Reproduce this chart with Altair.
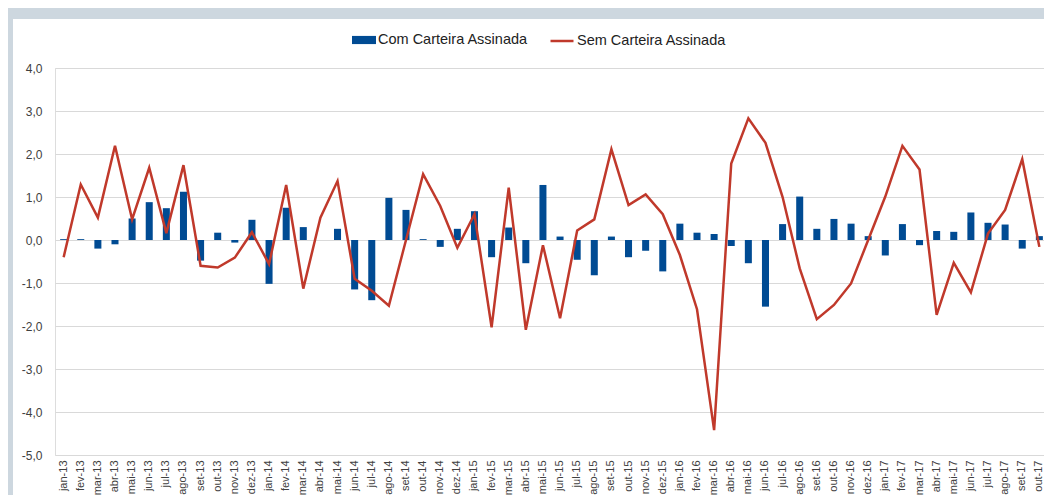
import altair as alt
import pandas as pd

months = []
for yy in ["13", "14", "15", "16"]:
    for m in ["jan", "fev", "mar", "abr", "mai", "jun", "jul", "ago", "set", "out", "nov", "dez"]:
        months.append(f"{m}-{yy}")
for m in ["jan", "fev", "mar", "abr", "mai", "jun", "jul", "ago", "set", "out"]:
    months.append(f"{m}-17")

com_carteira = [
    0.02, 0.02, -0.20, -0.10, 0.50, 0.88, 0.74, 1.12, -0.48, 0.17, -0.06, 0.47,
    -1.02, 0.75, 0.30, 0.00, 0.26, -1.15, -1.40, 0.98, 0.70, 0.02, -0.16, 0.26,
    0.67, -0.40, 0.29, -0.54, 1.28, 0.08, -0.46, -0.82, 0.08, -0.40, -0.25, -0.73,
    0.38, 0.17, 0.14, -0.14, -0.54, -1.55, 0.37, 1.01, 0.26, 0.49, 0.38, 0.09,
    -0.36, 0.37, -0.12, 0.21, 0.19, 0.64, 0.40, 0.36, -0.20, 0.09,
]
sem_carteira = [
    -0.40, 1.29, 0.52, 2.19, 0.48, 1.68, 0.16, 1.74, -0.60, -0.64, -0.41, 0.18,
    -0.56, 1.28, -1.13, 0.52, 1.37, -0.90, -1.18, -1.53, 0.00, 1.53, 0.79, -0.18,
    0.60, -2.03, 1.22, -2.09, -0.12, -1.82, 0.22, 0.48, 2.11, 0.81, 1.06, 0.60,
    -0.35, -1.61, -4.42, 1.78, 2.83, 2.26, 1.00, -0.66, -1.84, -1.51, -1.01, 0.00,
    1.01, 2.19, 1.64, -1.74, -0.53, -1.22, 0.15, 0.70, 1.88, -0.16,
]
series_names = ["Com Carteira Assinada", "Sem Carteira Assinada"]
y_ticks = [-5, -4, -3, -2, -1, 0, 1, 2, 3, 4]

BLUE = "#004b93"
RED = "#c0392b"
FRAME = "#cdd7df"
FONT = "Liberation Sans"

df = pd.DataFrame({
    "mes": months,
    "com": com_carteira,
    "sem": sem_carteira,
    "s1": series_names[0],
    "s2": series_names[1],
})

x_enc = alt.X(
    "mes:N", sort=months,
    scale=alt.Scale(paddingInner=0.59, paddingOuter=0.3),
    axis=alt.Axis(title=None, labelAngle=-90, labelFontSize=11, labelFont=FONT,
                  labelColor="#404040", ticks=False, tickSize=0, domain=False,
                  grid=False, labelPadding=5, labelOverlap=False),
)
y_axis = alt.Axis(title=None, values=y_ticks, labelFontSize=12, labelFont=FONT,
                  labelColor="#404040", ticks=False, tickSize=0, domain=False,
                  grid=True, gridColor="#d9d9d9", gridWidth=1, labelPadding=13,
                  labelExpr="replace(replace(format(datum.value, '.1f'), '.', ','), '\u2212', '-')")
y_scale = alt.Scale(domain=[-5, 4], nice=False)

one = pd.DataFrame({"a": [0]})
left_strip = alt.Chart(one).mark_rect(color=FRAME).encode(
    x=alt.value(-47), x2=alt.value(-42), y=alt.value(-60), y2=alt.value(440))
top_band = alt.Chart(one).mark_rect(color=FRAME).encode(
    x=alt.value(-47), x2=alt.value(1000), y=alt.value(-60), y2=alt.value(-49))

bars = alt.Chart(df).mark_bar().encode(
    x=x_enc,
    y=alt.Y("com:Q", scale=y_scale, axis=y_axis),
    fill=alt.Fill("s1:N", scale=alt.Scale(domain=[series_names[0]], range=[BLUE]),
                  legend=alt.Legend(title=None, orient="none", legendX=297, legendY=-40,
                                    symbolType="M-1,-0.34H1V0.34H-1Z", symbolSize=576,
                                    symbolStrokeWidth=0, labelFontSize=14.5, labelFont=FONT,
                                    labelColor="#222222", labelOffset=2, padding=0)),
)

line = alt.Chart(df).mark_line(strokeWidth=2.5).encode(
    x=alt.X("mes:N", sort=months),
    y=alt.Y("sem:Q", scale=y_scale),
    stroke=alt.Stroke("s2:N", scale=alt.Scale(domain=[series_names[1]], range=[RED]),
                      legend=alt.Legend(title=None, orient="none", legendX=494, legendY=-40,
                                        symbolType="stroke", symbolSize=529,
                                        symbolStrokeWidth=2.5, labelFontSize=14.5,
                                        labelFont=FONT, labelColor="#222222",
                                        labelOffset=2, padding=0)),
)

chart = alt.layer(left_strip, top_band, bars, line).properties(
    width=993, height=387,
    autosize="none",
    padding={"left": 47, "top": 60, "right": -4, "bottom": 40},
).configure_view(stroke=None).configure(background="white")

chart.save("out.html", embed_options={"renderer": "svg", "actions": False})
